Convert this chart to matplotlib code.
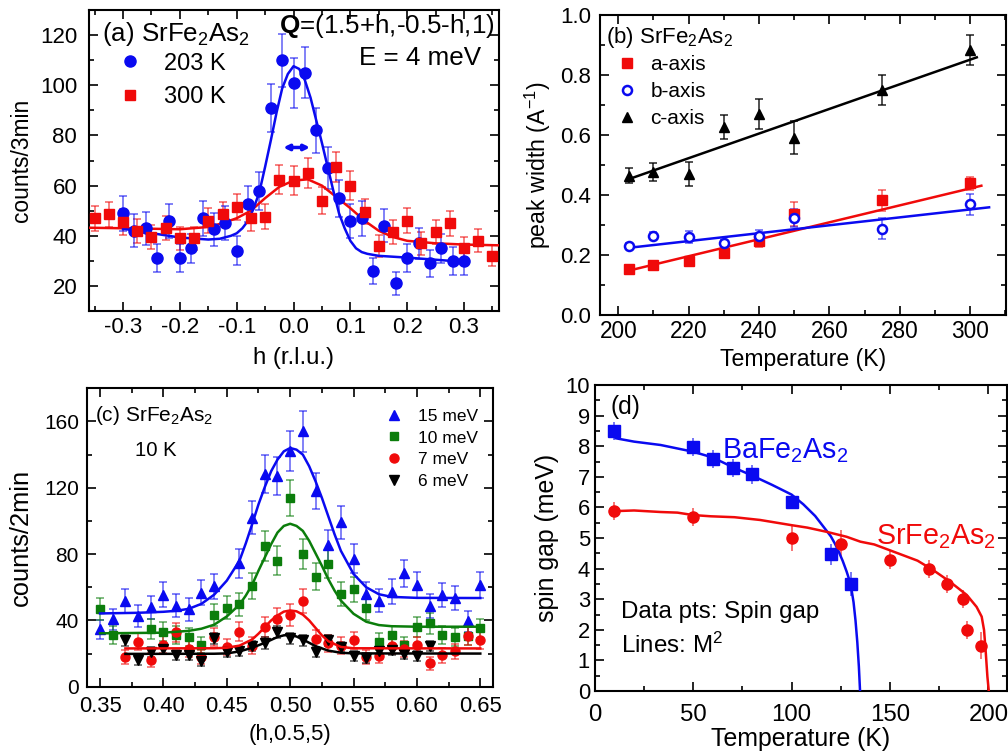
import numpy as np
import matplotlib
matplotlib.use('Agg')
import matplotlib.pyplot as plt
from matplotlib.ticker import MultipleLocator, FormatStrFormatter

plt.rcParams['font.family'] = ['Liberation Sans', 'DejaVu Sans']
plt.rcParams['mathtext.fontset'] = 'custom'
plt.rcParams['mathtext.rm'] = 'Liberation Sans'
plt.rcParams['mathtext.it'] = 'Liberation Sans:italic'
plt.rcParams['mathtext.bf'] = 'Liberation Sans:bold'
plt.rcParams['axes.unicode_minus'] = False

# ---------------- panel (a) data ----------------
a203_h = [-0.30, -0.28, -0.26, -0.24, -0.22, -0.20, -0.18, -0.16, -0.14, -0.12, -0.10,
          -0.08, -0.06, -0.04, -0.02, 0.00, 0.02, 0.04, 0.06, 0.08, 0.10, 0.12, 0.14,
          0.16, 0.18, 0.20, 0.22, 0.24, 0.26, 0.28, 0.30]
a203_y = [49, 42, 43, 31, 46, 31, 35, 47, 42.5, 45, 34, 52.6, 58, 91, 110, 101, 105, 82,
          67, 55, 46, 47, 26, 44, 21, 31, 37, 29, 35, 30, 30]
a203_e = [7, 6.5, 6.6, 5.6, 6.8, 5.6, 5.9, 6.9, 6.5, 6.7, 5.8, 7.3, 7.6, 9.5, 10.5, 10,
          10.2, 9, 8.2, 7.4, 6.8, 6.9, 5.1, 6.6, 4.6, 5.6, 6.1, 5.4, 5.9, 5.5, 5.5]
a300_h = [-0.35, -0.325, -0.30, -0.275, -0.25, -0.225, -0.20, -0.175, -0.15, -0.125,
          -0.10, -0.075, -0.05, -0.025, 0.0, 0.025, 0.05, 0.075, 0.10, 0.125, 0.15,
          0.175, 0.20, 0.225, 0.25, 0.275, 0.30, 0.325, 0.35]
a300_y = [47, 48.5, 45.5, 42, 39.5, 43, 39, 39, 46, 48.5, 51.5, 47, 47.5, 62.4, 62, 65,
          54, 67.5, 60, 49.5, 36, 41.5, 46, 37, 41.5, 45, 35, 38, 32]
a300_e = [5, 5, 5, 4.8, 4.6, 4.8, 4.6, 4.6, 5, 5, 5.3, 5, 5, 5.8, 5.8, 6, 5.4, 6, 5.7,
          5, 4.5, 4.7, 5, 4.5, 4.7, 5, 4.4, 4.6, 4.2]
fit203_h = [-0.30, -0.20, -0.15, -0.13, -0.11, -0.10, -0.09, -0.08, -0.07, -0.06, -0.05,
            -0.04, -0.03, -0.02, -0.01, 0.00, 0.01, 0.02, 0.03, 0.04, 0.05, 0.06, 0.07,
            0.08, 0.09, 0.10, 0.11, 0.12, 0.13, 0.15, 0.20, 0.30]
fit203_y = [42.8, 39.3, 38.5, 38.8, 40, 41, 43, 46, 51, 57.5, 67.5, 78, 89, 98.7, 104.5,
            107.6, 106.5, 102, 95, 86, 77, 67.5, 58, 49, 43, 38, 35, 33.5, 32.8, 32,
            31.3, 29.6]
fit300_h = [-0.36, -0.30, -0.25, -0.20, -0.15, -0.125, -0.10, -0.075, -0.05, -0.025, 0.0,
            0.025, 0.05, 0.075, 0.10, 0.125, 0.15, 0.175, 0.20, 0.25, 0.30, 0.36]
fit300_y = [43.2, 43, 42.8, 42.6, 43.5, 45, 47, 50, 55, 59.5, 62, 62.5, 60, 55.5, 51, 46,
            42, 39.5, 38, 37, 36.5, 36.2]

# ---------------- panel (b) data ----------------
b_T = [203, 210, 220, 230, 240, 250, 275, 300]
b_a = [0.154, 0.166, 0.181, 0.206, 0.248, 0.337, 0.383, 0.439]
b_a_err = [0.01, 0.01, 0.01, 0.012, 0.02, 0.04, 0.035, 0.022]
b_b = [0.23, 0.264, 0.261, 0.239, 0.264, 0.322, 0.287, 0.369]
b_b_err = [0.01, 0.012, 0.02, 0.01, 0.02, 0.03, 0.035, 0.035]
b_c = [0.464, 0.478, 0.47, 0.628, 0.67, 0.591, 0.75, 0.883]
b_c_err = [0.025, 0.03, 0.04, 0.04, 0.05, 0.055, 0.05, 0.05]
fit_a_T = [203, 303.2]
fit_a_w = [0.148, 0.431]
fit_b_T = [203, 305.4]
fit_b_w = [0.224, 0.359]
fit_c_T = [203, 301.9]
fit_c_w = [0.453, 0.859]

# ---------------- panel (c) data ----------------
c15_h = [0.35, 0.36, 0.37, 0.38, 0.39, 0.40, 0.41, 0.42, 0.43, 0.44, 0.46, 0.47, 0.48,
         0.49, 0.50, 0.51, 0.52, 0.53, 0.54, 0.55, 0.56, 0.57, 0.58, 0.59, 0.60, 0.61,
         0.62, 0.63, 0.64, 0.65]
c15_y = [34.6, 40.6, 51.5, 42.6, 48, 55.5, 48.9, 46.6, 56.8, 60.5, 74.4, 102, 128.4, 127,
         142.1, 154.2, 118, 85.2, 99.3, 77.2, 55.7, 52, 57.4, 68.4, 61.3, 48.7, 55.3,
         53.5, 39.4, 61.5]
c15_e = [5.9, 6.4, 7.2, 6.5, 6.9, 7.5, 7.0, 6.8, 7.5, 7.8, 8.6, 10.1, 11.3, 11.3, 11.9,
         12.4, 10.9, 9.2, 10, 8.8, 7.5, 7.2, 7.6, 8.3, 7.8, 7.0, 7.4, 7.3, 6.3, 7.8]
c10_h = [0.35, 0.36, 0.39, 0.40, 0.41, 0.42, 0.43, 0.44, 0.45, 0.46, 0.47, 0.48, 0.49,
         0.50, 0.51, 0.52, 0.53, 0.54, 0.55, 0.56, 0.57, 0.58, 0.59, 0.60, 0.61, 0.62,
         0.63, 0.64, 0.65]
c10_y = [46.8, 31.2, 34.8, 33.2, 31.2, 29.8, 25.1, 43.2, 47.6, 49.7, 60.9, 85, 76, 113.9,
         80, 66.3, 74, 55.9, 58.7, 47.3, 27.1, 31.2, 25.1, 36.2, 38.2, 31.2, 30.1, 30.6,
         35.2]
c10_e = [6.8, 5.6, 5.9, 5.8, 5.6, 5.5, 5.0, 6.6, 6.9, 7.0, 7.8, 9.2, 8.7, 10.7, 8.9, 8.1,
         8.6, 7.5, 7.7, 6.9, 5.2, 5.6, 5.0, 6.0, 6.2, 5.6, 5.5, 5.5, 5.9]
c7_h = [0.37, 0.38, 0.39, 0.40, 0.41, 0.42, 0.43, 0.44, 0.45, 0.46, 0.47, 0.48, 0.49,
        0.50, 0.51, 0.52, 0.53, 0.54, 0.55, 0.56, 0.57, 0.58, 0.59, 0.60, 0.61, 0.62,
        0.63, 0.64, 0.65]
c7_y = [18.1, 27.1, 16.1, 25.3, 32.9, 22.8, 18, 30, 24.1, 33.1, 24.8, 36.1, 40.9, 43.1,
        51.8, 28.8, 26.3, 24.7, 28, 17.9, 18.7, 24.6, 23, 25, 14.1, 19, 21.4, 30.8, 28]
c7_e = [4.3, 5.2, 4.0, 5.0, 5.7, 4.8, 4.2, 5.5, 4.9, 5.8, 5.0, 6.0, 6.4, 6.6, 7.2, 5.4,
        5.1, 5.0, 5.3, 4.2, 4.3, 5.0, 4.8, 5.0, 3.8, 4.4, 4.6, 5.5, 5.3]
c6_h = [0.37, 0.38, 0.39, 0.40, 0.41, 0.42, 0.43, 0.44, 0.45, 0.46, 0.47, 0.48, 0.49,
        0.50, 0.51, 0.52, 0.53, 0.54, 0.55, 0.56, 0.57, 0.58, 0.59, 0.60, 0.61]
c6_y = [28, 16.4, 21.1, 22.5, 19, 19, 15.3, 29.1, 20.7, 21.5, 24.3, 26.5, 32.9, 29.1, 28,
        20.7, 28, 23.9, 18.5, 17.6, 21.8, 22.2, 19.8, 18.3, 24.7]
c6_e = [3.5, 3, 3, 3, 3, 3, 3, 3.5, 3, 3, 3, 3.5, 3.5, 3.5, 3.5, 3, 3.5, 3, 3, 3, 3, 3,
        3, 3, 3]
fit15_h = [0.35, 0.38, 0.40, 0.41, 0.42, 0.43, 0.44, 0.45, 0.46, 0.465, 0.47, 0.475, 0.48,
           0.485, 0.49, 0.495, 0.50, 0.505, 0.51, 0.515, 0.52, 0.525, 0.53, 0.535, 0.54,
           0.55, 0.56, 0.57, 0.58, 0.60, 0.65]
fit15_y = [44.2, 44.6, 45.2, 45.8, 47, 50, 55.5, 64, 76, 86.5, 98, 110, 120.5, 130, 137,
           142, 144, 143, 140, 133, 124, 114, 103, 92, 82, 68, 60, 55.8, 54.2, 53.6, 53.5]
fit10_h = [0.35, 0.40, 0.42, 0.43, 0.44, 0.45, 0.46, 0.465, 0.47, 0.475, 0.48, 0.485,
           0.49, 0.495, 0.50, 0.505, 0.51, 0.515, 0.52, 0.525, 0.53, 0.535, 0.54, 0.55,
           0.56, 0.57, 0.58, 0.60, 0.65]
fit10_y = [32.2, 32.6, 33.7, 35, 37.4, 42.4, 49.5, 55, 61.5, 70, 78, 86, 93, 97, 98.3, 97,
           94, 88, 80.5, 73, 65, 58, 52, 44, 39.2, 37.2, 36.5, 36.2, 36.2]
fit7_h = [0.37, 0.44, 0.45, 0.46, 0.47, 0.475, 0.48, 0.485, 0.49, 0.495, 0.50, 0.505,
          0.51, 0.515, 0.52, 0.525, 0.53, 0.54, 0.55, 0.65]
fit7_y = [23.1, 23.2, 23.5, 24.8, 28.5, 32, 36, 40, 43, 45.3, 46, 45.5, 43.5, 40, 35.5,
          31, 27.5, 24, 23.2, 23.1]
fit6_h = [0.37, 0.44, 0.45, 0.46, 0.47, 0.48, 0.49, 0.495, 0.50, 0.505, 0.51, 0.52, 0.53,
          0.54, 0.55, 0.65]
fit6_y = [19.8, 19.9, 20.1, 21.3, 23.5, 26.5, 30, 31, 31.2, 30.3, 28.5, 24.5, 21.8, 20.5,
          20.1, 20]

# ---------------- panel (d) data ----------------
ba_T = [10, 50, 60, 70, 80, 100, 120, 130]
ba_gap = [8.5, 7.98, 7.58, 7.28, 7.08, 6.19, 4.47, 3.49]
ba_err = [0.3, 0.3, 0.3, 0.3, 0.3, 0.25, 0.35, 0.4]
sr_T = [10, 50, 100, 125, 150, 170, 179, 187, 189, 196]
sr_gap = [5.88, 5.69, 4.99, 4.8, 4.28, 3.99, 3.49, 3.0, 1.99, 1.48]
sr_err = [0.3, 0.3, 0.4, 0.45, 0.3, 0.3, 0.3, 0.3, 0.3, 0.45]
fitBa_T = [10.7, 20, 33.5, 50, 60, 70, 80, 90, 100, 106, 112, 118, 120, 122, 124, 126,
           128, 130, 131.5, 132.5, 133.4, 134.2, 134.8]
fitBa_M2 = [8.26, 8.15, 8.04, 7.82, 7.63, 7.32, 7.04, 6.74, 6.42, 6.1, 5.72, 5.22, 5.05,
            4.82, 4.55, 4.25, 3.9, 3.5, 2.9, 2.3, 1.6, 0.8, 0.0]
fitSr_T = [10.7, 20, 33.5, 42, 50, 59, 71, 84, 100, 108, 118, 128, 135, 142, 152, 164,
           172, 180.5, 189, 194, 196.6, 197.8, 198.7, 199.5, 200.2]
fitSr_M2 = [5.88, 5.9, 5.85, 5.83, 5.75, 5.71, 5.68, 5.59, 5.42, 5.34, 5.2, 5.04, 4.88,
            4.79, 4.55, 4.26, 3.95, 3.57, 3.14, 2.75, 2.43, 1.99, 1.23, 0.47, 0.0]

BLUE = '#0a0af0'
RED = '#f00a0a'
GREEN = '#0b7d0b'
BLACK = '#000000'


def style(ax, xmaj, xmin, ymaj, ymin, xfmt, yfmt, xfs, yfs, xpad, ypad):
    ax.xaxis.set_major_locator(MultipleLocator(xmaj))
    ax.xaxis.set_minor_locator(MultipleLocator(xmin))
    ax.yaxis.set_major_locator(MultipleLocator(ymaj))
    ax.yaxis.set_minor_locator(MultipleLocator(ymin))
    ax.xaxis.set_major_formatter(FormatStrFormatter(xfmt))
    ax.yaxis.set_major_formatter(FormatStrFormatter(yfmt))
    ax.tick_params(which='both', direction='in', top=True, right=True, width=1.2)
    ax.tick_params(which='major', length=6.5)
    ax.tick_params(which='minor', length=3.5)
    ax.tick_params(axis='y', which='major', labelsize=yfs, pad=ypad)
    ax.tick_params(axis='x', which='major', labelsize=xfs, pad=xpad)
    for s in ax.spines.values():
        s.set_linewidth(1.5)


fig = plt.figure(figsize=(10.08, 7.52), dpi=100)

# ---------------- (a) ----------------
axA = fig.add_axes([0.0883, 0.5864, 0.4067, 0.4003])
axA.errorbar(a300_h, a300_y, yerr=a300_e, fmt='none', ecolor=RED, alpha=0.6,
             elinewidth=1.2, capsize=3, capthick=1.2, zorder=2)
axA.errorbar(a203_h, a203_y, yerr=a203_e, fmt='none', ecolor=BLUE, alpha=0.6,
             elinewidth=1.2, capsize=3, capthick=1.2, zorder=2)
axA.plot(fit300_h, fit300_y, color=RED, lw=1.8, zorder=3)
axA.plot(fit203_h, fit203_y, color=BLUE, lw=1.8, zorder=3)
axA.plot(a203_h, a203_y, 'o', color=BLUE, ms=8, ls='none', zorder=4, label='203 K')
axA.plot(a300_h, a300_y, 's', color=RED, ms=6.5, ls='none', zorder=4, label='300 K')
axA.annotate('', xy=(-0.018, 75.2), xytext=(0.029, 75.2),
             arrowprops=dict(arrowstyle='<|-|>', color=BLUE, lw=2.5,
                             mutation_scale=8, shrinkA=0, shrinkB=0))
axA.set_xlim(-0.36, 0.3616)
axA.set_ylim(10, 130)
style(axA, 0.1, 0.05, 20, 10, '%.1f', '%d', 16, 16, 4.5, 8.5)
axA.set_xlabel('h (r.l.u.)', fontsize=17.3, labelpad=6)
axA.set_ylabel('counts/3min', fontsize=16.4, labelpad=5)
axA.text(-0.338, 117.6, '(a) SrFe$_2$As$_2$', fontsize=18.7, ha='left', va='baseline')
axA.text(0.354, 120.7, r'$\mathbf{Q}$=(1.5+h,-0.5-h,1)', fontsize=18.7, ha='right',
         va='baseline')
axA.text(0.331, 108, 'E = 4 meV', fontsize=18.7, ha='right', va='baseline')
axA.legend(loc='upper left', bbox_to_anchor=(0.0712, 0.858), frameon=False,
           fontsize=17, handlelength=1.0, handletextpad=0.94, labelspacing=0.47,
           borderpad=0, borderaxespad=0, numpoints=1)

# ---------------- (b) ----------------
axB = fig.add_axes([0.5952, 0.5811, 0.4028, 0.3989])
axB.errorbar(b_T, b_a, yerr=b_a_err, fmt='none', ecolor=RED, alpha=0.6, elinewidth=1.2,
             capsize=3, capthick=1.2, zorder=2)
axB.errorbar(b_T, b_b, yerr=b_b_err, fmt='none', ecolor=BLUE, alpha=0.6, elinewidth=1.2,
             capsize=3, capthick=1.2, zorder=2)
axB.errorbar(b_T, b_c, yerr=b_c_err, fmt='none', ecolor=BLACK, alpha=0.8, elinewidth=1.2,
             capsize=3, capthick=1.2, zorder=2)
axB.plot(fit_a_T, fit_a_w, color=RED, lw=1.8, zorder=3)
axB.plot(fit_b_T, fit_b_w, color=BLUE, lw=1.8, zorder=3)
axB.plot(fit_c_T, fit_c_w, color=BLACK, lw=1.8, zorder=3)
axB.plot(b_T, b_a, 's', color=RED, ms=6.5, ls='none', zorder=4, label='a-axis')
axB.plot(b_T, b_b, 'o', mfc='white', mec=BLUE, mew=1.8, ms=6.5, ls='none', zorder=4,
         label='b-axis')
axB.plot(b_T, b_c, '^', color=BLACK, ms=7.5, ls='none', zorder=4, label='c-axis')
axB.set_xlim(194.8, 310.2)
axB.set_ylim(0, 1.0)
style(axB, 20, 10, 0.2, 0.1, '%d', '%.1f', 16.3, 16, 3.5, 6.3)
axB.set_xlabel('Temperature (K)', fontsize=16.6, labelpad=4)
axB.set_ylabel('peak width (A$^{-1}$)', fontsize=16.7, labelpad=5)
axB.text(196.4, 0.906, '(b) SrFe$_2$As$_2$', fontsize=16, ha='left', va='baseline')
axB.legend(loc='upper left', bbox_to_anchor=(0.040, 0.866), frameon=False,
           fontsize=15, handlelength=1.0, handletextpad=0.65, labelspacing=0.38,
           borderpad=0, borderaxespad=0, numpoints=1)

# ---------------- (c) ----------------
axC = fig.add_axes([0.0863, 0.0868, 0.4025, 0.3968])
for h, y, e, c in [(c15_h, c15_y, c15_e, BLUE), (c10_h, c10_y, c10_e, GREEN),
                   (c7_h, c7_y, c7_e, RED), (c6_h, c6_y, c6_e, BLACK)]:
    axC.errorbar(h, y, yerr=e, fmt='none', ecolor=c, alpha=0.6, elinewidth=1.2,
                 capsize=3, capthick=1.2, zorder=2)
axC.plot(c15_h, c15_y, '^', color=BLUE, ms=7, ls='none', zorder=4, label='15 meV')
axC.plot(c10_h, c10_y, 's', color=GREEN, ms=6, ls='none', zorder=4, label='10 meV')
axC.plot(c7_h, c7_y, 'o', color=RED, ms=6.5, ls='none', zorder=4, label='7 meV')
axC.plot(c6_h, c6_y, 'v', color=BLACK, ms=7, ls='none', zorder=4, label='6 meV')
axC.plot(fit15_h, fit15_y, color=BLUE, lw=1.8, zorder=5)
axC.plot(fit10_h, fit10_y, color=GREEN, lw=1.8, zorder=5)
axC.plot(fit7_h, fit7_y, color=RED, lw=1.8, zorder=5)
axC.plot(fit6_h, fit6_y, color=BLACK, lw=1.8, zorder=5)
axC.set_xlim(0.3397, 0.6598)
axC.set_ylim(0, 180)
style(axC, 0.05, 0.025, 40, 20, '%.2f', '%d', 15.8, 15, 6.5, 5.8)
axC.set_xlabel('(h,0.5,5)', fontsize=16, labelpad=5)
axC.set_ylabel('counts/2min', fontsize=18.4, labelpad=8)
axC.text(0.346, 160.2, '(c) SrFe$_2$As$_2$', fontsize=15, ha='left', va='baseline')
axC.text(0.3776, 139, '10 K', fontsize=14.6, ha='left', va='baseline')
axC.legend(loc='upper left', bbox_to_anchor=(0.735, 0.932), frameon=False,
           fontsize=12.5, handlelength=1.0, handletextpad=0.9, labelspacing=0.38,
           borderpad=0, borderaxespad=0, numpoints=1)

# ---------------- (d) ----------------
axD = fig.add_axes([0.59, 0.0811, 0.4087, 0.4069])
axD.errorbar(ba_T, ba_gap, yerr=ba_err, fmt='none', ecolor=BLUE, alpha=0.6,
             elinewidth=1.3, capsize=0, zorder=2)
axD.errorbar(sr_T, sr_gap, yerr=sr_err, fmt='none', ecolor=RED, alpha=0.6,
             elinewidth=1.3, capsize=0, zorder=2)
axD.plot(fitBa_T, fitBa_M2, color=BLUE, lw=1.8, zorder=3)
axD.plot(fitSr_T, fitSr_M2, color=RED, lw=1.8, zorder=3)
axD.plot(ba_T, ba_gap, 's', color=BLUE, ms=8, ls='none', zorder=4)
axD.plot(sr_T, sr_gap, 'o', color=RED, ms=8, ls='none', zorder=4)
axD.set_xlim(0, 209.3)
axD.set_ylim(0, 10)
style(axD, 50, 25, 1, 0.5, '%d', '%d', 17.3, 15.8, 9, 3.4)
axD.set_xlabel('Temperature (K)', fontsize=17.9, labelpad=1)
axD.set_ylabel('spin gap (meV)', fontsize=17.9, labelpad=5)
axD.text(8.1, 9.06, '(d)', fontsize=17.7, ha='left', va='baseline')
axD.text(64.8, 7.62, 'BaFe$_2$As$_2$', fontsize=20.6, color=BLUE, ha='left',
         va='baseline')
axD.text(142.8, 4.79, 'SrFe$_2$As$_2$', fontsize=20.6, color=RED, ha='left',
         va='baseline')
axD.text(13.2, 2.40, 'Data pts: Spin gap', fontsize=17.4, ha='left', va='baseline')
axD.text(13.2, 1.23, 'Lines: M$^2$', fontsize=17.4, ha='left', va='baseline')

fig.savefig('out.png', dpi=100)
